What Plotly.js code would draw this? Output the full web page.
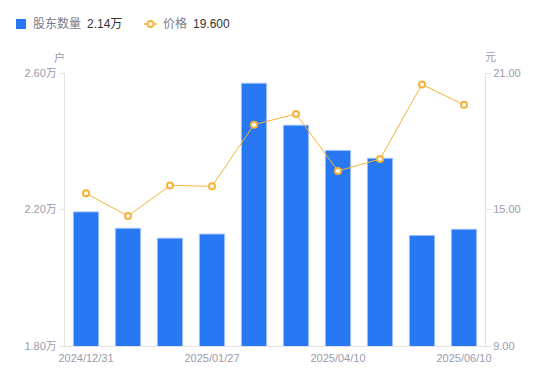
<!DOCTYPE html>
<html>
<head>
<meta charset="utf-8">
<script src="https://cdn.plot.ly/plotly-3.0.1.min.js"></script>
<style>html,body{margin:0;padding:0;background:#fff;}#chart{width:550px;height:381px;}</style>
</head>
<body>
<div id="chart"></div>
<script>
const dates = ["2024/12/31","2025/01/10","2025/01/20","2025/01/27","2025/02/28","2025/03/20","2025/04/10","2025/04/30","2025/05/20","2025/06/10"];
const holders = [2.193, 2.145, 2.116, 2.128, 2.570, 2.447, 2.373, 2.350, 2.124, 2.142];
const prices = [15.71, 14.71, 16.06, 16.02, 18.73, 19.20, 16.69, 17.22, 20.50, 19.60];
const tickIdx = [0, 3, 6, 9];
const leftTicks = [1.8, 2.2, 2.6];
const leftTickText = ["1.80万", "2.20万", "2.60万"];
const rightTicks = [9, 15, 21];
const rightTickText = ["9.00", "15.00", "21.00"];
const legendHolder = "2.14万";
const legendPrice = "19.600";

const FONT = "Liberation Sans, Noto Sans CJK SC, sans-serif";
const GRAY = "#9a9cae";
const BLUE = "#2878f3";
const ORANGE = "#f7b23b";

const data = [
  {type: "bar", x: dates, y: holders, name: "股东数量", yaxis: "y",
   marker: {color: BLUE, line: {color: "#9cc2fa", width: 1}}, width: 0.6,
   hoverinfo: "skip"},
  {type: "scatter", mode: "lines+markers", x: dates, y: prices, name: "价格", yaxis: "y2",
   line: {color: ORANGE, width: 1},
   marker: {color: "#ffffff", size: 6, line: {color: ORANGE, width: 2}},
   hoverinfo: "skip"}
];

const layout = {
  width: 550, height: 381,
  margin: {l: 65, r: 65, t: 73, b: 35},
  paper_bgcolor: "#fff", plot_bgcolor: "#fff",
  showlegend: false,
  font: {family: FONT, color: GRAY, size: 11},
  bargap: 0.4,
  xaxis: {type: "category", range: [-0.5, 9.5], showgrid: false, zeroline: false,
    showline: true, linecolor: "#e3e3e8", linewidth: 1,
    ticks: "", ticklabelstandoff: 2, tickvals: tickIdx.map(i => dates[i]), ticktext: tickIdx.map(i => dates[i]),
    tickfont: {size: 11, color: GRAY, family: FONT}, fixedrange: true},
  yaxis: {range: [1.8, 2.6], showgrid: false, zeroline: false,
    showline: true, linecolor: "#e3e3e8", linewidth: 1,
    ticks: "outside", ticklen: 5, tickcolor: "#e3e3e8",
    tickvals: leftTicks, ticktext: leftTickText,
    tickfont: {size: 11, color: GRAY, family: FONT}},
  yaxis2: {range: [9, 21], overlaying: "y", side: "right", showgrid: false, zeroline: false,
    showline: true, linecolor: "#e3e3e8", linewidth: 1,
    ticks: "outside", ticklen: 5, tickcolor: "#e3e3e8",
    tickvals: rightTicks, ticktext: rightTickText,
    tickfont: {size: 11, color: GRAY, family: FONT}},
  shapes: [
    {type: "rect", xref: "paper", yref: "paper", layer: "above",
     x0: (16-65)/420, x1: (26-65)/420, y0: (346-29)/273, y1: (346-19)/273,
     fillcolor: BLUE, line: {width: 0}},
    {type: "line", xref: "paper", yref: "paper",
     x0: (144-65)/420, x1: (157-65)/420, y0: (346-24)/273, y1: (346-24)/273,
     line: {color: ORANGE, width: 1.5}},
    {type: "circle", xref: "paper", yref: "paper",
     x0: (147.5-65)/420, x1: (153.5-65)/420, y0: (346-27)/273, y1: (346-21)/273,
     fillcolor: "#fff", line: {color: ORANGE, width: 1.8}}
  ],
  annotations: [
    {xref: "paper", yref: "paper", x: (31-65)/420, y: (346-24)/273, xanchor: "left", yanchor: "middle",
     text: "股东数量", showarrow: false, font: {size: 12, color: "#7a7c8c", family: FONT}},
    {xref: "paper", yref: "paper", x: (85-65)/420, y: (346-24)/273, xanchor: "left", yanchor: "middle",
     text: legendHolder, showarrow: false, font: {size: 12, color: "#333333", family: FONT}},
    {xref: "paper", yref: "paper", x: (161-65)/420, y: (346-24)/273, xanchor: "left", yanchor: "middle",
     text: "价格", showarrow: false, font: {size: 12, color: "#7a7c8c", family: FONT}},
    {xref: "paper", yref: "paper", x: (191-65)/420, y: (346-24)/273, xanchor: "left", yanchor: "middle",
     text: legendPrice, showarrow: false, font: {size: 12, color: "#333333", family: FONT}},
    {xref: "paper", yref: "paper", x: (59-65)/420, y: (346-57)/273, xanchor: "center", yanchor: "middle",
     text: "户", showarrow: false, font: {size: 11, color: GRAY, family: FONT}},
    {xref: "paper", yref: "paper", x: (490-65)/420, y: (346-57)/273, xanchor: "center", yanchor: "middle",
     text: "元", showarrow: false, font: {size: 11, color: GRAY, family: FONT}}
  ]
};

Plotly.newPlot("chart", data, layout, {displayModeBar: false, staticPlot: true});
</script>
</body>
</html>
